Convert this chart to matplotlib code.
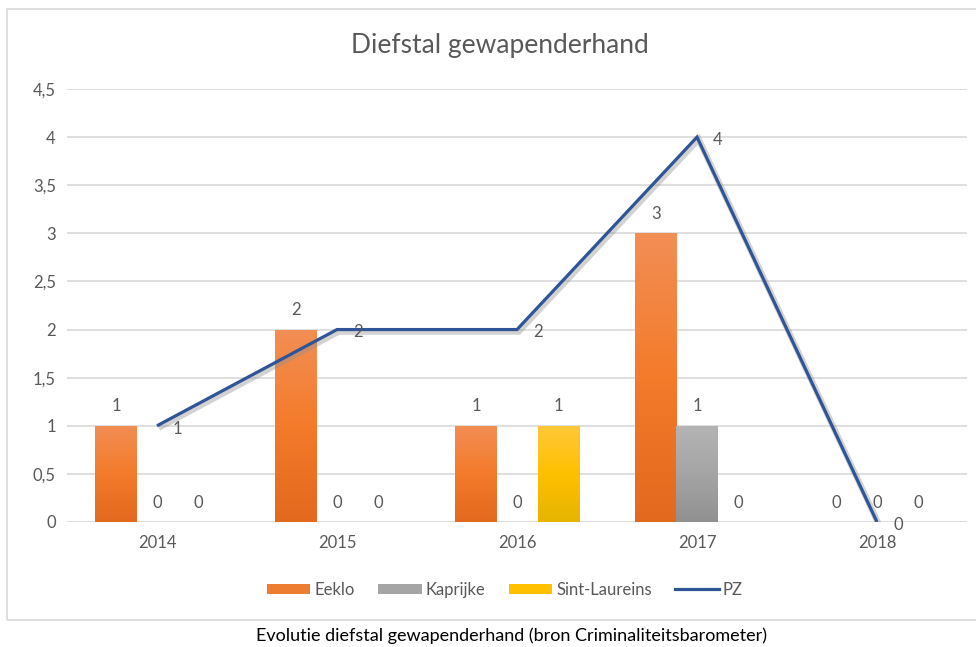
import matplotlib
matplotlib.use("Agg")
import matplotlib.pyplot as plt
import numpy as np
from matplotlib.patches import Rectangle, Patch
from matplotlib.lines import Line2D
from matplotlib.ticker import FuncFormatter
import matplotlib.patheffects as pe
from matplotlib.colors import LinearSegmentedColormap

plt.rcParams['font.family'] = ['Lato', 'DejaVu Sans']

years = ['2014', '2015', '2016', '2017', '2018']
eeklo = [1, 2, 1, 3, 0]
kaprijke = [0, 0, 0, 1, 0]
sint_laureins = [0, 0, 1, 0, 0]
pz = [1, 2, 2, 4, 0]

title = 'Diefstal gewapenderhand'
caption = 'Evolutie diefstal gewapenderhand (bron Criminaliteitsbarometer)'
yticks = [0, 0.5, 1, 1.5, 2, 2.5, 3, 3.5, 4, 4.5]

txt = '#595959'
grid = '#D9D9D9'
fs = 12

fig = plt.figure(figsize=(9.76, 6.47), dpi=100)
fig.patch.set_facecolor('white')

# chart frame
fig.patches.append(Rectangle((7/976, 1-620/647), 1.0, (620-9)/647,
                             transform=fig.transFigure, fill=False,
                             edgecolor=grid, linewidth=1.2, zorder=0))

ax = fig.add_axes([67/976, 1-522/647, 900/976, (522-89)/647])
x = np.arange(len(years))
w = 0.228
off = 0.228

series = [
    (eeklo, -off, 'Eeklo', '#F28E55', '#F47B2A', '#E2691E'),
    (kaprijke, 0.0, 'Kaprijke', '#B4B4B4', '#A5A5A5', '#909090'),
    (sint_laureins, off, 'Sint-Laureins', '#FFC83A', '#FFC000', '#E6B400'),
]

for vals, o, name, ctop, cmid, cbot in series:
    bars = ax.bar(x + o, vals, width=w, color='none', edgecolor='none', zorder=2, label=name)
    cmap = LinearSegmentedColormap.from_list(name, [cbot, cmid, ctop])
    grad = np.linspace(0, 1, 256).reshape(-1, 1)
    for b, v in zip(bars, vals):
        if v > 0:
            x0 = b.get_x()
            im = ax.imshow(grad, cmap=cmap, origin='lower', aspect='auto',
                           extent=[x0, x0 + b.get_width(), 0, v], zorder=2,
                           interpolation='bilinear')
            im.set_clip_path(b)
        ax.annotate(str(v), (b.get_x() + b.get_width()/2, v), xytext=(0, 14),
                    textcoords='offset points', ha='center', va='center',
                    color=txt, fontsize=fs, zorder=5)

ax.plot(x, pz, color='#2F5597', linewidth=2.3, zorder=4, label='PZ',
        solid_joinstyle='miter', solid_capstyle='butt',
        path_effects=[pe.SimpleLineShadow(offset=(1.2, -1.5), shadow_color='#909090', alpha=0.4, linewidth=4.5),
                      pe.Normal()])
for xi, v in zip(x, pz):
    ax.annotate(str(v), (xi, v), xytext=(15, -2), textcoords='offset points',
                ha='center', va='center', color=txt, fontsize=fs, zorder=5)

ax.set_xlim(-0.5, len(years) - 0.5)
ax.set_ylim(0, 4.5)
ax.set_yticks(yticks)
ax.yaxis.set_major_formatter(FuncFormatter(lambda v, p: ('%g' % v).replace('.', ',')))
ax.set_xticks(x)
ax.set_xticklabels(years)
ax.tick_params(axis='both', length=0, colors=txt, labelsize=fs)
ax.tick_params(axis='y', pad=8)
ax.tick_params(axis='x', pad=9)
ax.grid(axis='y', color=grid, linewidth=1.2, zorder=0)
ax.set_axisbelow(True)
for s in ax.spines.values():
    s.set_visible(False)

# legend
handles = [Patch(facecolor='#ED7D31'), Patch(facecolor='#A5A5A5'), Patch(facecolor='#FFC000'),
           Line2D([0], [0], color='#2F5597', linewidth=2.3)]
fig.legend(handles, ['Eeklo', 'Kaprijke', 'Sint-Laureins', 'PZ'], loc='center',
           bbox_to_anchor=(505/976, 1-590/647), ncol=4, frameon=False,
           fontsize=fs, handlelength=2.6, handleheight=0.6, handletextpad=0.25,
           columnspacing=1.4, labelcolor=txt)

fig.text(500/976, 1-45/647, title, ha='center', va='center', fontsize=19,
         color=txt)
fig.text(512/976, 1-636/647, caption, ha='center', va='center', fontsize=13, color='black')

fig.savefig('out.png', dpi=100)
